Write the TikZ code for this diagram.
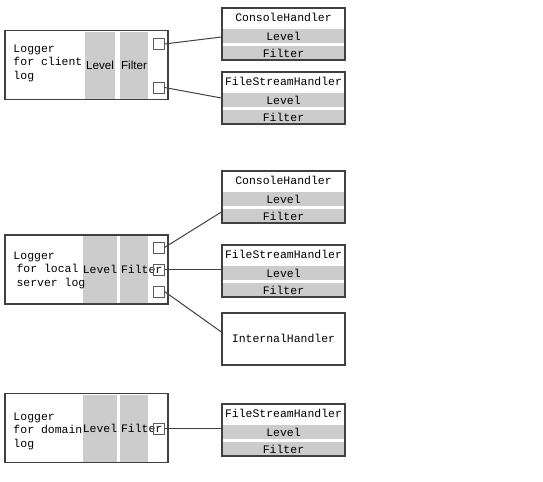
\documentclass[tikz,border=0pt]{standalone}
\usepackage{fontspec}
\setmonofont{Liberation Mono}
\setsansfont{Liberation Sans}
\definecolor{stripgray}{RGB}{204,204,204}
\definecolor{framegray}{RGB}{64,64,64}
\definecolor{portgray}{RGB}{90,90,90}
\newcommand{\monotext}{\fontsize{8.6pt}{10.1pt}\selectfont\ttfamily}
\newcommand{\sanstext}{\fontsize{8.7pt}{10pt}\selectfont\sffamily}
\tikzset{every picture/.style={line width=0.75pt}}
\tikzset{
  logger/.style={draw=framegray, line width=0.9pt, minimum width=122.25pt, minimum height=51.75pt, inner sep=0pt},
  column/.style={fill=stripgray, minimum height=50.25pt, inner sep=0pt},
  levcol/.style={column, minimum width=22.5pt},
  filcol/.style={column, text width=19.5pt, inner xsep=0.75pt, align=left},
  port/.style={draw=portgray, minimum size=8.25pt, inner sep=0pt},
  handler/.style={draw=framegray, line width=0.9pt, minimum width=92.25pt, minimum height=39pt, inner sep=0pt},
  strip/.style={fill=stripgray, minimum width=91.5pt, minimum height=10.5pt, inner sep=0pt, font=\monotext},
  caption/.style={inner sep=0.75pt, font=\monotext},
  wire/.style={draw=framegray, line width=0.75pt},
}

\begin{document}
\begin{tikzpicture}[x=0.75pt,y=0.75pt,yscale=-1,xscale=1]
\useasboundingbox (0,0) rectangle (543,482);

%Shape: Rectangle (client logger)
\node [logger] (log1) at (86.5,65) {};
\node [levcol, font=\sanstext] (lev1) at (100,65) {Level};
\node [column, minimum width=21pt, font=\sanstext] (fil1) at (134,65) {Filter};
\node [caption, anchor=west, align=left] (txt1) at (12,63) {Logger\\for client\\log};
\node [port] (p11) at (158.5,44) {};
\node [port] (p12) at (158.5,87.5) {};

%Shape: Rectangle (local server logger)
\node [logger] (log2) at (86.5,269.5) {};
\node [levcol, font=\monotext] (lev2) at (100,269.5) {Level};
\node [filcol, font=\monotext] (fil2) at (134,269.5) {Filter};
\node [caption, anchor=west, align=left] (txt2) at (12,270) {Logger\\\hspace{2.25pt}for local\\\hspace{2.25pt}server log};
\node [port] (p21) at (158.5,247.5) {};
\node [port] (p22) at (158.5,269.5) {};
\node [port] (p23) at (158.5,291.5) {};

%Shape: Rectangle (domain logger)
\node [logger] (log3) at (86.5,428) {};
\node [levcol, font=\monotext] (lev3) at (100,428) {Level};
\node [filcol, font=\monotext] (fil3) at (134,428) {Filter};
\node [caption, anchor=west, align=left] (txt3) at (12,431) {Logger\\for domain\\log};
\node [port] (p31) at (158.5,428.5) {};

%Shape: Rectangle (handlers, strips first)
\node [strip] (con1l) at (283.5,36) {Level};
\node [strip] (con1f) at (283.5,53) {Filter};
\node [handler] (con1) at (283.5,34) {};
\node [caption] (con1t) at (283.5,17) {ConsoleHandler};

\node [strip] (fs1l) at (283.5,100) {Level};
\node [strip] (fs1f) at (283.5,117) {Filter};
\node [handler] (fs1) at (283.5,98) {};
\node [caption] (fs1t) at (283.5,81) {FileStreamHandler};

\node [strip] (con2l) at (283.5,199) {Level};
\node [strip] (con2f) at (283.5,216) {Filter};
\node [handler] (con2) at (283.5,197) {};
\node [caption] (con2t) at (283.5,180) {ConsoleHandler};

\node [strip] (fs2l) at (283.5,273) {Level};
\node [strip] (fs2f) at (283.5,290) {Filter};
\node [handler] (fs2) at (283.5,271) {};
\node [caption] (fs2t) at (283.5,254) {FileStreamHandler};

\node [handler] (int) at (283.5,339) {};
\node [caption] (intt) at (283.5,338) {InternalHandler};

\node [strip] (fs3l) at (283.5,432) {Level};
\node [strip] (fs3f) at (283.5,449) {Filter};
\node [handler] (fs3) at (283.5,430) {};
\node [caption] (fs3t) at (283.5,413) {FileStreamHandler};

%Straight Lines
\draw [wire] (p11.east) -- ([yshift=2.25pt]con1.west);
\draw [wire] (p12.east) -- (fs1.west);
\draw [wire] (p21.east) -- ([yshift=11.25pt]con2.west);
\draw [wire] (p22.east) -- (p22.east -| fs2.west);
\draw [wire] (p23.east) -- ([yshift=-5.25pt]int.west);
\draw [wire] (p31.east) -- (p31.east -| fs3.west);

\end{tikzpicture}
\end{document}
